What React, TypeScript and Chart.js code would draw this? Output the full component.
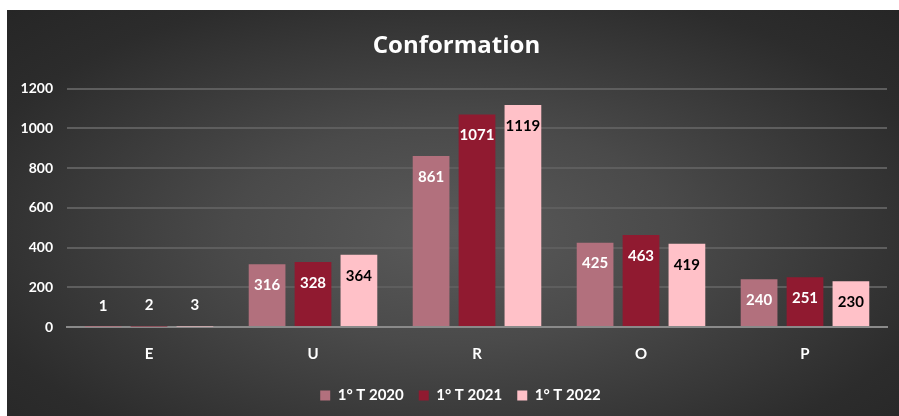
import React, { useEffect, useRef } from "react";
import { Chart, registerables } from "chart.js";

Chart.register(...registerables);

const categories = ["E", "U", "R", "O", "P"];
const seriesNames = ["1° T 2020", "1° T 2021", "1° T 2022"];
const values2020 = [1, 316, 861, 425, 240];
const values2021 = [2, 328, 1071, 463, 251];
const values2022 = [3, 364, 1119, 419, 230];
const colors = ["#b2707d", "#901a30", "#ffc1c8"];
const labelColors = ["#ffffff", "#ffffff", "#000000"];
const yTicks = [0, 200, 400, 600, 800, 1000, 1200];

const FONT = "Lato, 'Open Sans', sans-serif";

const dataLabels = {
  id: "dataLabels",
  afterDatasetsDraw(chart: any) {
    const ctx = chart.ctx;
    ctx.save();
    ctx.font = `bold 15px ${FONT}`;
    ctx.textAlign = "center";
    ctx.textBaseline = "middle";
    chart.data.datasets.forEach((ds: any, i: number) => {
      const meta = chart.getDatasetMeta(i);
      meta.data.forEach((el: any, j: number) => {
        const h = el.base - el.y;
        let y: number;
        let color: string;
        if (h > 40) {
          y = el.y + 21;
          color = labelColors[i];
        } else {
          y = el.y - 21;
          color = "#ffffff";
        }
        ctx.fillStyle = color;
        ctx.fillText(String(ds.data[j]), el.x, y);
      });
    });
    ctx.restore();
  },
};

// shift the title and legend a little to the right, as in the original
const shiftBlocks = {
  id: "shiftBlocks",
  afterLayout(chart: any) {
    if (chart.titleBlock) {
      chart.titleBlock.left += 6;
      chart.titleBlock.right += 6;
    }
    if (chart.legend) {
      chart.legend.left += 10;
      chart.legend.right += 10;
    }
  },
};

export default function App() {
  const ref = useRef<HTMLCanvasElement>(null);
  useEffect(() => {
    if (!ref.current) return;
    const chart = new Chart(ref.current, {
      type: "bar",
      data: {
        labels: categories,
        datasets: [values2020, values2021, values2022].map((d, i) => ({
          label: seriesNames[i],
          data: d,
          backgroundColor: colors[i],
          borderWidth: 0,
          categoryPercentage: 0.84,
          barPercentage: 0.8,
        })),
      },
      options: {
        responsive: false,
        animation: false,
        maintainAspectRatio: false,
        layout: { padding: { left: 7, right: 12, top: 18, bottom: 3 } },
        plugins: {
          title: {
            display: true,
            text: "Conformation",
            color: "#ffffff",
            font: { family: "'Open Sans', sans-serif", size: 24, weight: "bold" },
            padding: { top: 4, bottom: 28 },
          },
          legend: {
            position: "bottom",
            labels: {
              color: "#ffffff",
              font: { family: FONT, size: 15, weight: "bold" },
              boxWidth: 10,
              boxHeight: 10,
              padding: 15,
            },
          },
          tooltip: { enabled: false },
        },
        scales: {
          x: {
            grid: { display: false },
            border: { display: true, color: "#8a8a8a", width: 2 },
            ticks: {
              color: "#ffffff",
              font: { family: FONT, size: 15, weight: "bold" },
              padding: 10,
            },
          },
          y: {
            min: 0,
            max: 1200,
            afterBuildTicks: (s: any) => {
              s.ticks = yTicks.map((v) => ({ value: v }));
            },
            afterFit: (s: any) => {
              s.width = 53;
            },
            grid: {
              color: "#5e5e5e",
              lineWidth: 2,
              drawTicks: false,
            },
            border: { display: false },
            ticks: {
              color: "#ffffff",
              font: { family: FONT, size: 14, weight: "bold" },
              padding: 14,
              callback: (v: any) => String(v),
            },
          },
        },
      },
      plugins: [dataLabels, shiftBlocks],
    });
    return () => chart.destroy();
  }, []);
  return (
    <div
      style={{
        position: "absolute",
        left: 7,
        top: 10,
        width: 892,
        height: 406,
        background:
          "radial-gradient(ellipse at 50% 55%, #5a5a5a 0%, #4a4a4a 35%, #2c2c2c 80%, #262626 100%)",
      }}
    >
      <canvas ref={ref} width={892} height={406} style={{ display: "block" }} />
    </div>
  );
}
